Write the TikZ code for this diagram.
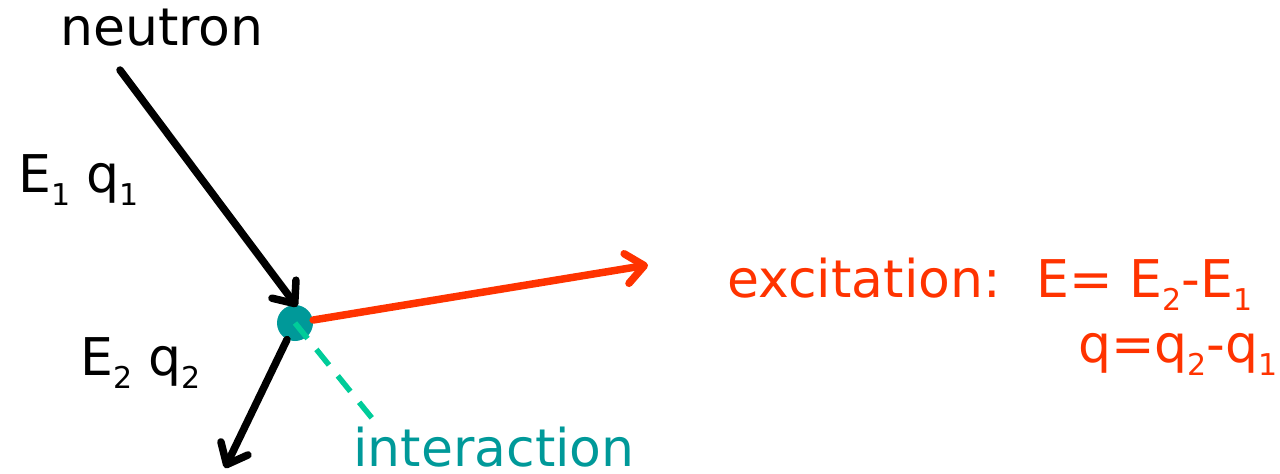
\documentclass[tikz,border=0pt]{standalone}
\usepackage{fontspec}
\setmainfont{DejaVu Sans}
\usetikzlibrary{arrows.meta}
\definecolor{excred}{HTML}{FF3300}
\definecolor{dotteal}{HTML}{009999}
\definecolor{dashgreen}{HTML}{00CC99}
% small lowered index, as in E_1
\newcommand{\lowidx}[1]{\raisebox{-0.25em}{\fontsize{15}{15}\selectfont #1}}

\begin{document}
\begin{tikzpicture}[x=0.5pt,y=-0.5pt,
  lbl/.style={font=\fontsize{26}{31}\selectfont, inner sep=0pt},
  barbed/.style={-{Straight Barb[length=9pt,width=15pt,round]}, line cap=round}]
\useasboundingbox (0,0) rectangle (1280,473);
% the interaction point, drawn first so the lines start at its rim
\node[circle, fill=dotteal, inner sep=0pt, minimum size=18pt] (dot) at (295,323) {};
\coordinate (nsrc) at (120,70);
\coordinate (exc) at (648,265);
\coordinate (out) at (225,468);
\coordinate (int) at (380,428);
% incoming, excitation and outgoing neutron
\draw[barbed, line width=3.75pt] (nsrc) -- ([xshift=1pt,yshift=-1pt]dot.north);
\draw[barbed, line width=3.75pt, excred] (dot) -- (exc);
\draw[barbed, line width=3.75pt] (dot) -- (out);
\draw[dashgreen, line width=2.75pt, dash pattern=on 10pt off 7pt] (dot.center) -- (int);
% labels
\node[lbl, anchor=base west] (neutron) at (60,45) {neutron};
\node[lbl, anchor=base west] (in) at (18,192) {E\lowidx{1} q\lowidx{1}};
\node[lbl, anchor=base west] (outlbl) at (80,375) {E\lowidx{2} q\lowidx{2}};
\node[lbl, anchor=base west, text=excred] (excE) at (727,297) {excitation:\hspace{7pt} E=\ E\lowidx{2}-E\lowidx{1}};
\node[lbl, anchor=base east, text=excred] (excq) at (1278,362) {q=q\lowidx{2}-q\lowidx{1}};
\node[lbl, anchor=base west, text=dotteal] (intlbl) at (353,466) {interaction};
\end{tikzpicture}
\end{document}
